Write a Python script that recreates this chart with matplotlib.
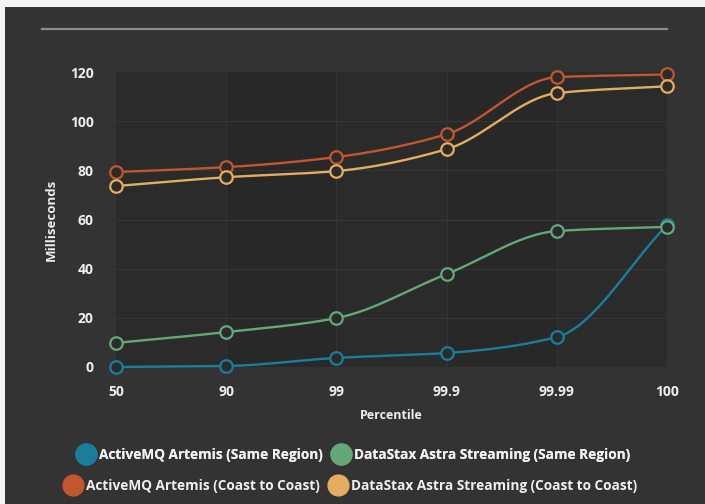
import numpy as np
import matplotlib
matplotlib.use("Agg")
import matplotlib.pyplot as plt
from matplotlib.lines import Line2D
from matplotlib.patches import Rectangle

# data
percentiles = ["50", "90", "99", "99.9", "99.99", "100"]
artemis_same = [0.0, 0.4, 3.7, 5.7, 12.2, 57.7]
astra_same = [9.8, 14.2, 19.9, 37.8, 55.3, 57.0]
artemis_c2c = [79.3, 81.3, 85.4, 94.7, 117.9, 119.0]
astra_c2c = [73.6, 77.2, 79.7, 88.6, 111.4, 114.2]

series = [
    ("ActiveMQ Artemis (Same Region)", artemis_same, "#1b7d9e"),
    ("DataStax Astra Streaming (Same Region)", astra_same, "#64a87a"),
    ("ActiveMQ Artemis (Coast to Coast)", artemis_c2c, "#c2562e"),
    ("DataStax Astra Streaming (Coast to Coast)", astra_c2c, "#e4ad5f"),
]

plt.rcParams["font.family"] = ["Open Sans", "DejaVu Sans"]
plt.rcParams["font.weight"] = "bold"

BG = "#333333"
PLOT_BG = "#2b2b2b"


def monotone(x, y, n=200):
    # monotone cubic (Fritsch-Carlson) just for drawing the smooth line
    x = np.asarray(x, float)
    y = np.asarray(y, float)
    h = np.diff(x)
    d = np.diff(y) / h
    m = np.zeros_like(y)
    m[0], m[-1] = d[0], d[-1]
    for i in range(1, len(y) - 1):
        if d[i - 1] * d[i] <= 0:
            m[i] = 0
        else:
            w1 = 2 * h[i] + h[i - 1]
            w2 = h[i] + 2 * h[i - 1]
            m[i] = (w1 + w2) / (w1 / d[i - 1] + w2 / d[i])
    xs = np.linspace(x[0], x[-1], n)
    idx = np.clip(np.searchsorted(x, xs) - 1, 0, len(x) - 2)
    t = (xs - x[idx]) / h[idx]
    h00 = 2 * t**3 - 3 * t**2 + 1
    h10 = t**3 - 2 * t**2 + t
    h01 = -2 * t**3 + 3 * t**2
    h11 = t**3 - t**2
    ys = h00 * y[idx] + h10 * h[idx] * m[idx] + h01 * y[idx + 1] + h11 * h[idx] * m[idx + 1]
    return xs, ys


fig = plt.figure(figsize=(7.05, 5.04), dpi=100)
fig.patch.set_facecolor("#f4f4f4")
fig.add_artist(Rectangle((5 / 705, 0), 1, 1 - 7 / 504, transform=fig.transFigure,
                         facecolor=BG, edgecolor="none", zorder=-10))
fig.add_artist(Line2D([42 / 705, 667 / 705], [1 - 29 / 504, 1 - 29 / 504],
                      transform=fig.transFigure, color="#8c8c8c", lw=1.6))

ax = fig.add_axes([116 / 705, 1 - 367 / 504, 551 / 705, 295 / 504])
ax.set_facecolor(PLOT_BG)
xpos = np.arange(len(percentiles))

# alternating column shading
for i in range(len(percentiles) - 1):
    if i % 2 == 1:
        ax.axvspan(i, i + 1, color="#282828", lw=0, zorder=0)

for yv in range(20, 120, 20):
    ax.axhline(yv, color="#363636", lw=0.8, zorder=1)
for xv in xpos[1:-1]:
    ax.axvline(xv, color="#333333", lw=0.8, zorder=1)

for name, vals, col in series:
    xs, ys = monotone(xpos, vals)
    ax.plot(xs, ys, color=col, lw=1.7, zorder=3, clip_on=False)
    ax.plot(xpos, vals, "o", ms=9, mfc=PLOT_BG, mec=col, mew=1.6, zorder=4, clip_on=False)

ax.set_xlim(0, len(percentiles) - 1)
ax.set_ylim(0, 120)
ax.set_xticks(xpos)
ax.set_xticklabels(percentiles, fontweight="bold")
ax.set_yticks(range(0, 121, 20))
ax.set_yticklabels([str(v) for v in range(0, 121, 20)], fontweight="bold")
ax.tick_params(length=0, colors="#eeeeee", labelsize=10)
ax.tick_params(axis="x", pad=13)
ax.tick_params(axis="y", pad=16)
for s in ax.spines.values():
    s.set_visible(False)

ax.set_xlabel("Percentile", color="#eeeeee", fontsize=9, fontweight="bold", labelpad=7)
ax.set_ylabel("Milliseconds", color="#eeeeee", fontsize=9.5, fontweight="bold", labelpad=9)

handles = [Line2D([], [], ls="none", marker="o", ms=15, mfc=c, mec=c) for _, _, c in series]
names = [n for n, _, _ in series]
lkw = dict(ncol=2, loc="center", frameon=False, prop={"weight": "bold", "size": 9.8},
           labelcolor="#f0f0f0", handletextpad=0.35, columnspacing=0.7, handlelength=1.2)
leg1 = fig.legend(handles[:2], names[:2], bbox_to_anchor=(0.502, 1 - 455 / 504), **lkw)
leg2 = fig.legend(handles[2:], names[2:], bbox_to_anchor=(0.498, 1 - 486 / 504), **lkw)
fig.add_artist(leg1)

fig.savefig("out.png", dpi=100, facecolor=fig.get_facecolor())
